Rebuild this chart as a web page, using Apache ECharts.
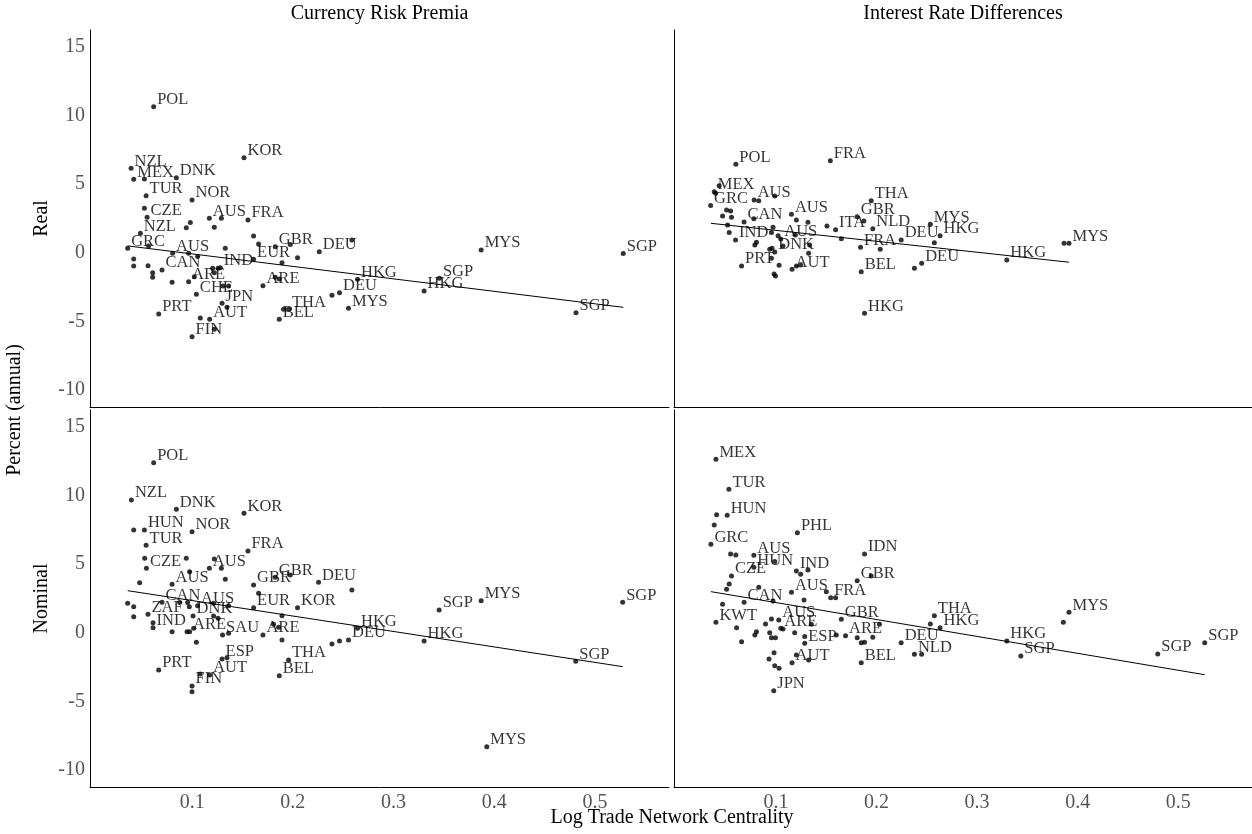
<!DOCTYPE html>
<html><head><meta charset="utf-8">
<script src="https://cdn.jsdelivr.net/npm/echarts@6/dist/echarts.min.js"></script>
<style>html,body{margin:0;padding:0;background:#fff}#c{width:1252px;height:834px}</style>
</head><body><div id="c"></div>
<script>
// ---- data: [x = log trade network centrality, y = percent (annual), label] ----
const realCRP = [
[0.0618,10.66,'POL'],[0.1515,6.94,'KOR'],[0.0394,6.16,'NZL'],[0.042,5.36,'MEX'],[0.0526,5.38,''],
[0.0843,5.48,'DNK'],[0.0543,4.16,'TUR'],[0.0999,3.85,'NOR'],[0.0526,3.25,''],[0.0553,2.59,'CZE'],
[0.1171,2.52,'AUS'],[0.129,2.52,''],[0.122,1.86,''],[0.0982,2.20,''],[0.0942,1.83,''],
[0.1554,2.39,'FRA'],[0.161,1.23,''],[0.166,0.64,''],[0.1825,0.44,'GBR'],[0.1974,0.61,''],
[0.0486,1.42,'NZL'],[0.036,0.33,'GRC'],[0.0568,0.50,''],[0.161,-0.47,'EUR'],[0.1329,0.33,''],
[0.1892,-0.72,''],[0.2046,-0.36,''],[0.0806,-0.04,'AUS'],[0.0965,-0.04,''],[0.1054,-0.28,''],
[0.042,-0.45,''],[0.042,-0.96,''],[0.0562,-0.94,''],[0.0701,-1.25,'CAN'],[0.0608,-1.45,''],
[0.0608,-1.79,''],[0.128,-1.09,'IND'],[0.0965,-2.11,'ARE'],[0.1022,-1.74,''],[0.1203,-1.13,''],
[0.1257,-1.13,''],[0.122,-1.45,''],[0.0801,-2.15,''],[0.1042,-3.03,'CHE'],[0.1306,-2.42,''],
[0.1362,-2.42,''],[0.1703,-2.40,'ARE'],[0.1825,-1.79,''],[0.1865,-1.91,''],[0.1297,-3.68,'JPN'],
[0.1346,-3.98,''],[0.0668,-4.46,'PRT'],[0.1174,-4.85,'AUT'],[0.1081,-4.76,''],[0.0999,-6.12,'FIN'],
[0.122,-5.58,''],[0.1957,-4.12,'THA'],[0.1908,-4.12,''],[0.1865,-4.85,'BEL'],[0.2262,0.08,'DEU'],
[0.2586,0.93,''],[0.3869,0.20,'MYS'],[0.528,-0.05,'SGP'],[0.2642,-1.93,'HKG'],[0.3455,-1.86,'SGP'],
[0.3303,-2.79,'HKG'],[0.2463,-2.91,'DEU'],[0.2388,-3.10,''],[0.2552,-4.05,'MYS'],[0.4811,-4.37,'SGP']
];
const realIRD = [
[0.0601,6.46,'POL'],[0.1541,6.72,'FRA'],[0.0386,4.46,'MEX'],[0.04,4.34,''],[0.0435,4.89,''],
[0.035,3.44,'GRC'],[0.0783,3.85,'AUS'],[0.0829,3.80,''],[0.0988,4.14,''],[0.1947,3.80,'THA'],
[0.1154,2.81,'AUS'],[0.0509,3.12,''],[0.0549,3.05,''],[0.1808,2.63,'GBR'],[0.1874,2.32,''],
[0.0683,2.25,'CAN'],[0.078,2.49,''],[0.0469,2.68,''],[0.0558,2.59,''],[0.1203,2.39,''],
[0.1318,2.22,''],[0.1593,1.68,'ITA'],[0.1507,1.95,''],[0.1963,1.76,'NLD'],[0.2535,2.08,'MYS'],
[0.2245,0.93,'DEU'],[0.2632,1.25,'HKG'],[0.2575,0.74,''],[0.0535,1.47,''],[0.0598,0.93,'IND'],
[0.0519,2.03,''],[0.0971,1.86,''],[0.1021,1.25,''],[0.1048,1.01,'AUS'],[0.0955,1.47,''],
[0.1193,1.30,''],[0.0988,0.06,'DNK'],[0.079,0.57,''],[0.0806,0.77,''],[0.0938,0.26,''],
[0.0961,0.33,''],[0.107,0.50,''],[0.1335,0.57,''],[0.1325,-0.04,''],[0.165,1.03,''],
[0.1841,0.40,'FRA'],[0.2037,0.26,''],[0.2449,-0.77,'DEU'],[0.2377,-1.13,''],[0.0658,-0.96,'PRT'],
[0.0955,-0.40,''],[0.1031,-0.91,''],[0.116,-1.20,'AUT'],[0.1203,-0.96,''],[0.1246,-0.89,''],
[0.0981,-1.55,''],[0.0995,-1.69,''],[0.1848,-1.38,'BEL'],[0.1881,-4.41,'HKG'],[0.3296,-0.53,'HKG'],
[0.3914,0.69,'MYS'],[0.3865,0.69,'']
];
const nominalCRP = [
[0.0618,12.41,'POL'],[0.0397,9.69,'NZL'],[0.0843,9.01,'DNK'],[0.1515,8.72,'KOR'],[0.0526,7.50,'HUN'],
[0.042,7.50,''],[0.0999,7.37,'NOR'],[0.0543,6.38,'TUR'],[0.1554,5.97,'FRA'],[0.0546,4.70,'CZE'],
[0.0529,5.43,''],[0.0942,5.43,''],[0.1171,4.70,'AUS'],[0.122,5.38,''],[0.129,4.70,''],
[0.0801,3.54,'AUS'],[0.0975,4.46,''],[0.1329,3.90,''],[0.1825,4.05,'GBR'],[0.1974,4.22,''],
[0.161,3.49,'GBR'],[0.0479,3.65,''],[0.0701,2.22,'CAN'],[0.1054,1.98,'AUS'],[0.161,1.83,'EUR'],
[0.166,2.88,''],[0.2046,1.83,'KOR'],[0.036,2.15,''],[0.042,1.90,''],[0.0562,1.35,'ZAF'],
[0.1009,1.23,'DNK'],[0.0876,2.20,''],[0.0955,2.20,''],[0.0972,1.90,''],[0.1213,2.15,''],
[0.1362,1.98,''],[0.042,1.17,''],[0.0612,0.37,'IND'],[0.0612,0.74,''],[0.0975,0.08,'ARE'],
[0.1015,0.33,''],[0.1213,1.23,''],[0.1257,1.06,''],[0.1302,-0.16,'SAU'],[0.1362,-0.04,''],
[0.1703,-0.16,'ARE'],[0.1808,0.62,''],[0.1858,0.40,''],[0.1892,1.25,''],[0.0801,0.08,''],
[0.0949,0.08,''],[0.1892,-0.53,''],[0.1042,-0.69,''],[0.1297,-1.91,'ESP'],[0.1346,-1.82,''],
[0.1957,-1.98,'THA'],[0.0668,-2.71,'PRT'],[0.1174,-3.08,'AUT'],[0.1081,-3.01,''],[0.1865,-3.13,'BEL'],
[0.0999,-3.88,'FIN'],[0.0999,-4.30,''],[0.2255,3.68,'DEU'],[0.2586,3.12,''],[0.3452,1.66,'SGP'],
[0.3869,2.34,'MYS'],[0.5274,2.22,'SGP'],[0.2642,0.33,'HKG'],[0.2552,-0.53,'DEU'],[0.2463,-0.60,''],
[0.2388,-0.82,''],[0.3303,-0.60,'HKG'],[0.4808,-2.08,'SGP'],[0.3925,-8.31,'MYS']
];
const nominalIRD = [
[0.0403,12.66,'MEX'],[0.0532,10.47,'TUR'],[0.0515,8.57,'HUN'],[0.041,8.61,''],[0.0386,7.86,''],
[0.1213,7.30,'PHL'],[0.0353,6.46,'GRC'],[0.1881,5.75,'IDN'],[0.078,5.65,'AUS'],[0.0549,5.75,''],
[0.0601,5.67,''],[0.078,4.78,'HUN'],[0.0988,5.19,''],[0.1203,4.51,'IND'],[0.1246,4.27,''],
[0.1318,4.58,''],[0.1808,3.80,'GBR'],[0.1947,4.14,''],[0.0558,4.14,'CZE'],[0.0535,3.56,''],
[0.0509,3.17,''],[0.1154,2.95,'AUS'],[0.1279,2.39,''],[0.0829,3.32,''],[0.1544,2.56,'FRA'],
[0.1593,2.56,''],[0.1501,3.00,''],[0.0683,2.22,'CAN'],[0.0971,2.32,''],[0.0403,0.77,'KWT'],
[0.0469,2.08,''],[0.1028,0.93,'AUS'],[0.0955,1.01,''],[0.165,0.98,'GBR'],[0.2575,1.25,'THA'],
[0.2632,0.37,'HKG'],[0.2535,0.64,''],[0.1048,0.33,'ARE'],[0.107,0.28,''],[0.0896,0.64,''],
[0.1352,0.62,''],[0.1692,-0.21,'ARE'],[0.2029,0.62,''],[0.1963,-0.33,''],[0.1286,-0.77,'ESP'],
[0.1286,-0.28,''],[0.16,-0.16,''],[0.0608,0.37,''],[0.0658,-0.65,''],[0.0806,0.08,''],
[0.079,-0.16,''],[0.0938,0.01,''],[0.0955,-0.36,''],[0.0995,-0.36,''],[0.1186,0.01,''],
[0.1808,-0.36,''],[0.1848,-0.72,''],[0.1881,-0.69,''],[0.2245,-0.72,'DEU'],[0.2377,-1.57,'NLD'],
[0.2449,-1.57,''],[0.116,-2.18,'AUT'],[0.1203,-1.62,''],[0.1325,-1.98,''],[0.1848,-2.18,'BEL'],
[0.0981,-1.45,''],[0.0931,-1.91,''],[0.0988,-2.40,''],[0.1031,-2.59,''],[0.0978,-4.22,'JPN'],
[0.3914,1.50,'MYS'],[0.3858,0.77,''],[0.3296,-0.60,'HKG'],[0.3435,-1.69,'SGP'],[0.4797,-1.55,'SGP'],
[0.5264,-0.72,'SGP']
];
// fitted regression lines: [[x start, y start], [x end, y end]]
const fitRealCRP = [[0.036,0.50],[0.528,-3.98]];
const fitRealIRD = [[0.0353,2.15],[0.3914,-0.69]];
const fitNominalCRP = [[0.036,3.07],[0.5274,-2.47]];
const fitNominalIRD = [[0.0353,3.0],[0.5264,-3.06]];

const colTitles = ['Currency Risk Premia','Interest Rate Differences'];
const rowTitles = ['Real','Nominal'];
const xTicks = [0.1,0.2,0.3,0.4,0.5];
const yTicks = [-10,-5,0,5,10,15];
const xTitle = 'Log Trade Network Centrality';
const yTitle = 'Percent (annual)';

// ---- chart ----
const FONT = '"Liberation Serif","DejaVu Serif",serif';
const panels = [
  {data: realCRP, fit: fitRealCRP, left: 90, top: 30, width: 579, row: 0, col: 0},
  {data: realIRD, fit: fitRealIRD, left: 674, top: 30, width: 578, row: 0, col: 1},
  {data: nominalCRP, fit: fitNominalCRP, left: 90, top: 410, width: 579, row: 1, col: 0},
  {data: nominalIRD, fit: fitNominalIRD, left: 674, top: 410, width: 578, row: 1, col: 1}
];
const PH = 377;
const grid = [], xAxis = [], yAxis = [], series = [];
panels.forEach((p, i) => {
  grid.push({left: p.left, top: p.top, width: p.width, height: PH});
  xAxis.push({
    type: 'value', gridIndex: i, min: -0.0014, max: 0.5734,
    axisLine: {show: true, onZero: false, lineStyle: {color: '#000', width: 1}},
    axisTick: {show: false}, splitLine: {show: false},
    axisLabel: {show: p.row === 1, customValues: xTicks, margin: 6,
      formatter: v => v.toFixed(1), color: '#555', fontFamily: FONT, fontSize: 20}
  });
  yAxis.push({
    type: 'value', gridIndex: i, min: -11.25, max: 16.25,
    axisLine: {show: true, onZero: false, lineStyle: {color: '#000', width: 1}},
    axisTick: {show: false}, splitLine: {show: false},
    axisLabel: {show: p.col === 0, customValues: yTicks, margin: 5,
      formatter: v => String(v), color: '#555', fontFamily: FONT, fontSize: 20}
  });
  series.push({
    type: 'scatter', xAxisIndex: i, yAxisIndex: i, data: p.data,
    encode: {x: 0, y: 1}, symbolSize: 5, itemStyle: {color: '#000'}, silent: true,
    label: {show: true, position: 'right', distance: 1, offset: [0, -7],
      formatter: q => q.value[2], color: '#000', fontFamily: FONT, fontSize: 16.5}
  });
  series.push({
    type: 'line', xAxisIndex: i, yAxisIndex: i, data: p.fit, showSymbol: false,
    lineStyle: {color: '#000', width: 1}, silent: true
  });
});
const txt = (text, x, y, rot) => ({
  type: 'text', x: x, y: y, rotation: rot || 0, silent: true,
  style: {text: text, fill: '#000', font: '20px ' + FONT, fontSize: 20, fontFamily: FONT,
    align: 'center', verticalAlign: 'middle', textAlign: 'center', textVerticalAlign: 'middle'}
});
const graphic = [
  txt(colTitles[0], 379.5, 14), txt(colTitles[1], 963, 14),
  txt(rowTitles[0], 42, 218.5, Math.PI / 2), txt(rowTitles[1], 42, 598.5, Math.PI / 2),
  txt(yTitle, 15, 410, Math.PI / 2), txt(xTitle, 672, 818)
];
const chart = echarts.init(document.getElementById('c'), null, {renderer: 'canvas'});
chart.setOption({animation: false, backgroundColor: '#fff', grid, xAxis, yAxis, series, graphic});
</script></body></html>
